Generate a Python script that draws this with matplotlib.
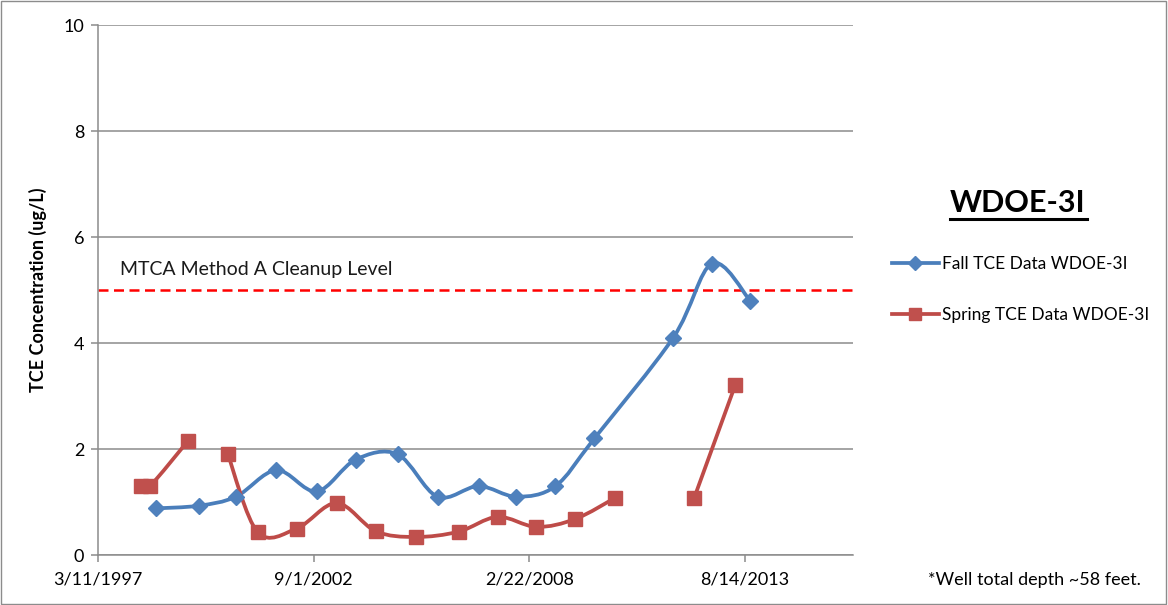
import numpy as np
import matplotlib.pyplot as plt
import matplotlib.dates as mdates
from matplotlib.path import Path
from matplotlib.patches import PathPatch, Rectangle
from matplotlib.lines import Line2D

# Fall sampling (blue diamonds)
fall_dates = ['1998-09-01', '1999-10-01', '2000-09-10', '2001-09-20', '2002-09-29',
              '2003-09-25', '2004-10-18', '2005-10-23', '2006-11-07', '2007-10-25',
              '2008-10-20', '2009-10-16', '2011-10-17', '2012-10-12', '2013-09-29']
fall_tce = [0.88, 0.93, 1.1, 1.6, 1.2, 1.8, 1.9, 1.1, 1.3, 1.1, 1.3, 2.2, 4.1, 5.5, 4.8]

# Spring sampling (red squares), NaN = no sample, breaks the line
spring_dates = ['1998-04-13', '1998-07-05', '1999-06-22', '2000-01-01', '2000-06-27',
                '2001-03-31', '2002-03-28', '2003-04-02', '2004-03-28', '2005-04-02',
                '2006-05-06', '2007-05-02', '2008-04-27', '2009-04-23', '2010-04-28',
                '2011-04-15', '2012-04-29', '2013-05-13']
spring_tce = [1.3, 1.3, 2.15, np.nan, 1.9, 0.43, 0.5, 0.98, 0.45, 0.34, 0.44, 0.72,
              0.53, 0.68, 1.08, np.nan, 1.08, 3.2]

cleanup_level = 5.0
tick_dates = ['1997-03-11', '2002-09-01', '2008-02-22', '2013-08-14']
tick_labels = ['3/11/1997', '9/1/2002', '2/22/2008', '8/14/2013']
x_end = '2016-05-10'

BLUE_LINE, BLUE_MK = '#4A7EBB', '#4F81BD'
RED_LINE, RED_MK = '#BE4B48', '#C0504D'

plt.rcParams['font.family'] = ['Lato', 'DejaVu Sans']


def to_num(dates):
    return mdates.datestr2num(dates)


def smooth_path(x, y):
    # Excel-style smoothed line: cubic bezier with catmull-rom control points
    pts = np.column_stack([x, y])
    n = len(pts)
    verts = [pts[0]]
    codes = [Path.MOVETO]
    for i in range(n - 1):
        p_prev = pts[i - 1] if i > 0 else pts[i]
        p_next2 = pts[i + 2] if i + 2 < n else pts[i + 1]
        c1 = pts[i] + (pts[i + 1] - p_prev) / 6.0
        c2 = pts[i + 1] - (p_next2 - pts[i]) / 6.0
        verts += [c1, c2, pts[i + 1]]
        codes += [Path.CURVE4] * 3
    return Path(verts, codes)


def draw_series(ax, dates, vals, lcolor, mcolor, marker, msize):
    x = to_num(dates)
    y = np.asarray(vals, dtype=float)
    ok = ~np.isnan(y)
    # split into continuous runs
    start = None
    for i in range(len(y) + 1):
        good = i < len(y) and ok[i]
        if good and start is None:
            start = i
        elif not good and start is not None:
            if i - start > 1:
                ax.add_patch(PathPatch(smooth_path(x[start:i], y[start:i]),
                                       facecolor='none', edgecolor=lcolor, lw=2.7,
                                       capstyle='round', joinstyle='round', zorder=3))
            start = None
    ax.plot(x[ok], y[ok], linestyle='none', marker=marker, markersize=msize,
            color=mcolor, markeredgecolor=mcolor, zorder=4)


fig = plt.figure(figsize=(11.68, 6.05), dpi=100)
ax = fig.add_axes([98 / 1168, 50 / 605, (853 - 98) / 1168, 530 / 605])

draw_series(ax, fall_dates, fall_tce, BLUE_LINE, BLUE_MK, 'D', 8)
draw_series(ax, spring_dates, spring_tce, RED_LINE, RED_MK, 's', 10)

ax.axhline(cleanup_level, color='#FF0000', lw=1.8, linestyle=(0, (4, 2.2)), zorder=2)
ax.text(to_num(['1997-10-01'])[0], cleanup_level + 0.22, 'MTCA Method A Cleanup Level',
        fontsize=14, color='#1a1a1a', va='bottom', ha='left')

ax.set_xlim(to_num([tick_dates[0]])[0], to_num([x_end])[0])
ax.set_ylim(0, 10)
ax.set_xticks(to_num(tick_dates))
ax.set_xticklabels(tick_labels, fontsize=13)
ax.set_yticks([0, 2, 4, 6, 8, 10])
ax.set_yticklabels(['0', '2', '4', '6', '8', '10'], fontsize=13)
ax.grid(axis='y', color='#8c8c8c', lw=1.1)
ax.set_axisbelow(True)
for s in ['top', 'right']:
    ax.spines[s].set_visible(False)
for s in ['left', 'bottom']:
    ax.spines[s].set_color('#8c8c8c')
    ax.spines[s].set_linewidth(1.1)
ax.tick_params(axis='both', direction='out', color='#8c8c8c', length=5, width=1.1, pad=5)
ax.tick_params(axis='x', pad=7)
ax.set_ylabel('TCE Concentration (ug/L)', fontsize=13, fontweight='bold', labelpad=12)

# title block at right
fig.text(1018 / 1168, 1 - 203 / 605, 'WDOE-3I', fontsize=22, fontweight='bold',
         ha='center', va='center')
fig.add_artist(Line2D([950 / 1168, 1087 / 1168], [1 - 219 / 605, 1 - 219 / 605],
                      color='black', lw=2.2))

legend_handles = [
    Line2D([], [], color=BLUE_LINE, lw=2.7, marker='D', markersize=7, markerfacecolor=BLUE_MK,
           markeredgecolor=BLUE_MK),
    Line2D([], [], color=RED_LINE, lw=2.7, marker='s', markersize=9, markerfacecolor=RED_MK,
           markeredgecolor=RED_MK),
]
fig.legend(legend_handles, ['Fall TCE Data WDOE-3I', 'Spring TCE Data WDOE-3I'],
           loc='upper left', bbox_to_anchor=(876 / 1168, 1 - 240 / 605), frameon=False,
           fontsize=12.5, labelspacing=2.05, handlelength=2.7, handletextpad=0.2)

fig.text(1034 / 1168, 1 - 580 / 605, '*Well total depth ~58 feet.', fontsize=13,
         ha='center', va='center')

# chart area border
fig.add_artist(Rectangle((0.001, 0.001), 0.997, 0.997, transform=fig.transFigure,
                         fill=False, edgecolor='#8c8c8c', lw=1))

fig.savefig('out.png', dpi=100)
